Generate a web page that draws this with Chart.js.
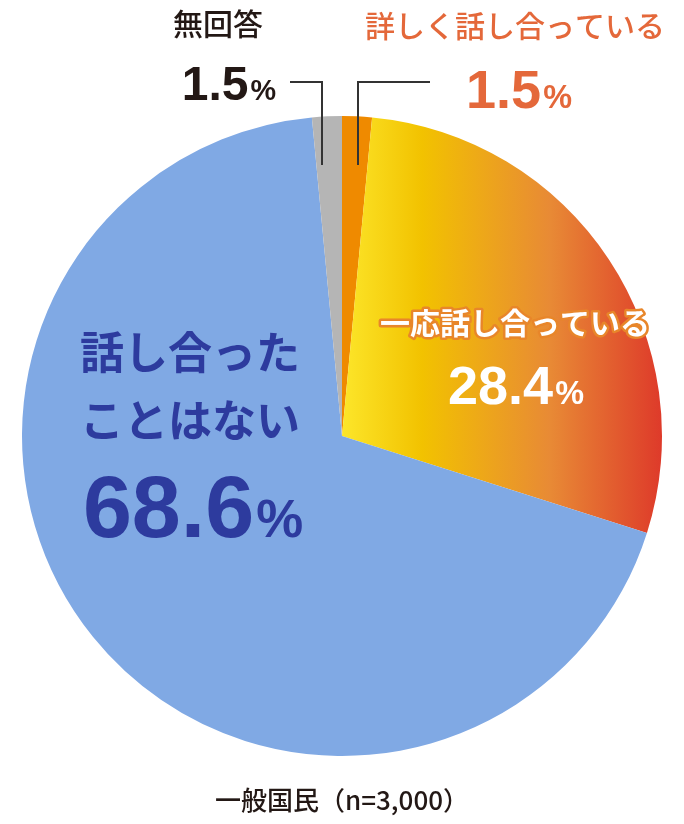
<!DOCTYPE html>
<html><head><meta charset="utf-8">
<script src="https://cdn.jsdelivr.net/npm/chart.js@4"></script>
<style>html,body{margin:0;padding:0;background:#fff}#w{width:684px;height:824px}</style>
</head><body><div id="w"><canvas id="c"></canvas></div>
<script>
const categories = ['詳しく話し合っている','一応話し合っている','話し合ったことはない','無回答'];
const values = [1.5, 28.4, 68.6, 1.5];
const valueLabels = ['1.5','28.4','68.6','1.5'];
const F = '"Noto Sans CJK JP", sans-serif';
const N = '"Liberation Sans", Arial, sans-serif';

function pct(ctx, num, x, y, size, color) {
  ctx.font = `bold ${size}px ${N}`;
  const w1 = ctx.measureText(num).width;
  ctx.font = `bold ${size*0.6}px ${N}`;
  const w2 = ctx.measureText('%').width;
  let sx = x - (w1 + w2) / 2;
  ctx.textAlign = 'left'; ctx.textBaseline = 'alphabetic';
  ctx.fillStyle = color;
  ctx.font = `bold ${size}px ${N}`;
  ctx.fillText(num, sx, y);
  ctx.font = `bold ${size*0.6}px ${N}`;
  ctx.fillText('%', sx + w1 + 2, y);
}
const labels = {
  id: 'labels',
  afterDraw(chart) {
    const ctx = chart.ctx; ctx.save();
    ctx.strokeStyle = '#333'; ctx.lineWidth = 2;
    ctx.beginPath(); ctx.moveTo(322,165); ctx.lineTo(322,82); ctx.lineTo(290,82);
    ctx.moveTo(358,165); ctx.lineTo(358,82); ctx.lineTo(430,82); ctx.stroke();
    ctx.textAlign = 'center'; ctx.textBaseline = 'middle';
    ctx.fillStyle = '#231815'; ctx.font = `500 30px ${F}`;
    ctx.fillText(categories[3], 218, 24);
    pct(ctx, valueLabels[3], 228, 100, 48, '#231815');
    ctx.textAlign = 'center'; ctx.textBaseline = 'middle';
    ctx.fillStyle = '#e4683a'; ctx.font = `500 30px ${F}`;
    ctx.fillText(categories[0], 515, 26);
    pct(ctx, valueLabels[0], 518, 108, 54, '#e4683a');
    ctx.textAlign = 'center'; ctx.textBaseline = 'middle';
    ctx.font = `bold 30px ${F}`;
    ctx.lineWidth = 5; ctx.strokeStyle = '#e8862a'; ctx.lineJoin='round';
    ctx.strokeText(categories[1], 515, 323);
    ctx.fillStyle = '#fff'; ctx.fillText(categories[1], 515, 323);
    pct(ctx, valueLabels[1], 515, 404, 54, '#fff');
    ctx.textAlign = 'center'; ctx.textBaseline = 'middle';
    ctx.fillStyle = '#2d3b9e'; ctx.font = `bold 44px ${F}`;
    ctx.fillText('話し合った', 190, 352);
    ctx.fillText('ことはない', 190, 420);
    pct(ctx, valueLabels[2], 192, 537, 88, '#2d3b9e');
    ctx.textAlign = 'center'; ctx.textBaseline = 'middle';
    ctx.fillStyle = '#231815'; ctx.font = `500 26px ${F}`;
    ctx.fillText('一般国民（n=3,000）', 342, 800);
    ctx.restore();
  }
};
new Chart(document.getElementById('c'), {
  type: 'pie',
  data: { labels: categories, datasets: [{
    data: values, borderWidth: 0,
    backgroundColor: (ctx) => {
      const i = ctx.dataIndex;
      if (i === 1) {
        const a = ctx.chart.chartArea; if (!a) return '#f0b000';
        const cx = (a.left + a.right) / 2;
        const g = ctx.chart.ctx.createLinearGradient(cx, 0, a.right, 0);
        g.addColorStop(0, '#fce62a'); g.addColorStop(0.25, '#f2c200');
        g.addColorStop(0.65, '#e88a35'); g.addColorStop(1, '#de3a2a');
        return g;
      }
      return ['#ef8a00', null, '#80a9e4', '#b5b5b5'][i];
    }
  }]},
  options: {
    responsive: true, maintainAspectRatio: false, animation: false,
    layout: { padding: { top: 116, bottom: 68, left: 22, right: 22 } },
    plugins: { legend: { display: false }, tooltip: { enabled: false } }
  },
  plugins: [labels]
});
</script></body></html>
